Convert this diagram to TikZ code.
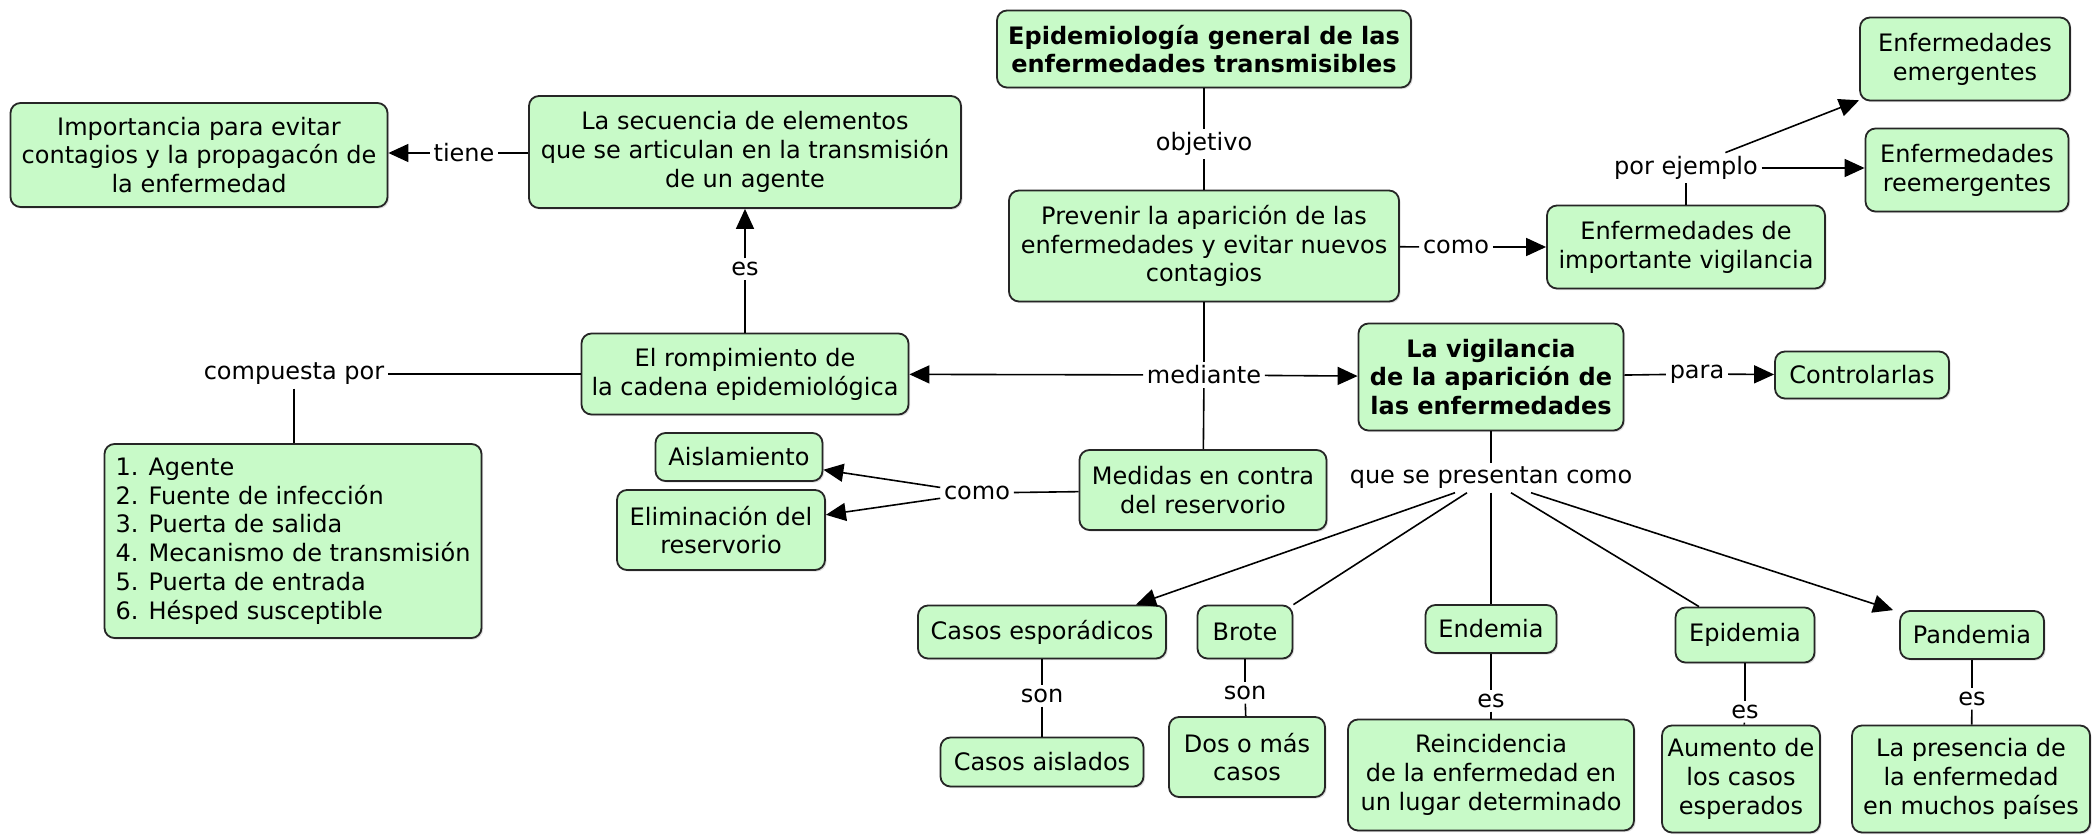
\documentclass[tikz,border=0pt]{standalone}
\usepackage{fontspec}
\setmainfont{DejaVu Sans}
\usetikzlibrary{arrows.meta,shadows}
\definecolor{cmapgreen}{RGB}{200,250,200}

\begin{document}
\begin{tikzpicture}[x=0.5pt,y=-0.5pt, line width=0.8pt,
  nodes = {font=\fontsize{12}{14.4}\selectfont},
  concept/.style = {draw=black!85, line width=0.9pt, fill=cmapgreen,
    rounded corners=5pt, align=center, inner sep=2pt,
    drop shadow={shadow xshift=0.8pt, shadow yshift=-0.8pt, opacity=0.25}},
  link/.style = {inner sep=1.5pt},
  arr/.style = {-{Triangle[length=10pt,width=9pt]}}]
\useasboundingbox (0,0) rectangle (2095,835);

% concepts
\node[concept, minimum width=207pt, minimum height=38.5pt, font=\fontsize{12}{14.4}\selectfont\bfseries]
  (epi) at (1204,49) {Epidemiología general de las\\enfermedades transmisibles};
\node[concept, minimum width=195pt, minimum height=55.5pt]
  (prev) at (1204,246) {Prevenir la aparición de las\\enfermedades y evitar nuevos\\contagios};
\node[concept, minimum width=139pt, minimum height=41.5pt]
  (vig) at (1686,247) {Enfermedades de\\importante vigilancia};
\node[concept, minimum width=105pt, minimum height=41.5pt]
  (emer) at (1965,59) {Enfermedades\\emergentes};
\node[concept, minimum width=101.5pt, minimum height=41.5pt]
  (reem) at (1967,170) {Enfermedades\\reemergentes};
\node[concept, minimum width=216pt, minimum height=56pt]
  (secu) at (745,152) {La secuencia de elementos\\que se articulan en la transmisión\\de un agente};
\node[concept, minimum width=188.5pt, minimum height=52pt]
  (impo) at (199,155) {Importancia para evitar\\contagios y la propagacón de\\la enfermedad};
\node[concept, minimum width=163.5pt, minimum height=40.5pt]
  (romp) at (745,374) {El rompimiento de\\la cadena epidemiológica};
\node[concept, minimum width=132.5pt, minimum height=53.5pt, font=\fontsize{12}{14.4}\selectfont\bfseries]
  (vigi) at (1491,377) {La vigilancia\\de la aparición de\\las enfermedades};
\node[concept, minimum width=87pt, minimum height=23.5pt]
  (ctrl) at (1862,375) {Controlarlas};
\node[concept, minimum width=188.5pt, minimum height=97pt, align=left]
  (list) at (293,541) {1. Agente\\2. Fuente de infección\\3. Puerta de salida\\4. Mecanismo de transmisión\\5. Puerta de entrada\\6. Hésped susceptible};
\node[concept, minimum width=83.5pt, minimum height=24pt]
  (aisl) at (739,457) {Aislamiento};
\node[concept, minimum width=104pt, minimum height=40pt]
  (elim) at (721,530) {Eliminación del\\reservorio};
\node[concept, minimum width=123.5pt, minimum height=40pt]
  (medi) at (1203,490) {Medidas en contra\\del reservorio};
\node[concept, minimum width=124pt, minimum height=26.5pt]
  (cesp) at (1042,632) {Casos esporádicos};
\node[concept, minimum width=47.5pt, minimum height=26.5pt]
  (brot) at (1245,632) {Brote};
\node[concept, minimum width=65.5pt, minimum height=24pt]
  (ende) at (1491,629) {Endemia};
\node[concept, minimum width=69.5pt, minimum height=27.5pt]
  (epid) at (1745,635) {Epidemia};
\node[concept, minimum width=72pt, minimum height=24pt]
  (pand) at (1972,635) {Pandemia};
\node[concept, minimum width=101.5pt, minimum height=24.5pt]
  (cais) at (1042,762) {Casos aislados};
\node[concept, minimum width=78pt, minimum height=40pt]
  (dosm) at (1247,757) {Dos o más\\casos};
\node[concept, minimum width=143pt, minimum height=55.5pt]
  (rein) at (1491,775) {Reincidencia\\de la enfermedad en\\un lugar determinado};
\node[concept, minimum width=79pt, minimum height=53.5pt]
  (aume) at (1741,779) {Aumento de\\los casos\\esperados};
\node[concept, minimum width=119pt, minimum height=53.5pt]
  (pres) at (1971,779) {La presencia de\\la enfermedad\\en muchos países};

% linking phrases
\node[link] (objetivo) at (1204,144) {objetivo};
\node[link] (como1) at (1456,247) {como};
\node[link] (porej) at (1686,168) {por ejemplo};
\node[link] (tiene) at (464,153) {tiene};
\node[link] (es1) at (745,269) {es};
\node[link] (comp) at (294,374) {compuesta por};
\node[link] (mediante) at (1204,375) {mediante};
\node[link] (para) at (1697,374) {para};
\node[link] (qspc) at (1491,478) {que se presentan como};
\node[link] (como2) at (977,493) {como};
\node[link] (son1) at (1042,696) {son};
\node[link] (son2) at (1245,693) {son};
\node[link] (es2) at (1491,701) {es};
\node[link] (es3) at (1745,712) {es};
\node[link] (es4) at (1972,699) {es};

% connectors
\draw (epi) -- (objetivo);
\draw (objetivo) -- (prev);
\draw (prev) -- (como1);
\draw[arr] (como1) -- (vig);
\draw (vig) -- (porej);
\draw[arr] (porej) -- (emer);
\draw[arr] (porej) -- (porej -| reem.west);
\draw (prev) -- (mediante);
\draw (mediante) -- (medi);
\draw[arr] (mediante) -- (romp);
\draw[arr] (mediante) -- (vigi);
\draw (romp) -- (es1);
\draw[arr] (es1) -- (secu);
\draw (secu.west |- tiene) -- (tiene);
\draw[arr] (tiene) -- (impo.east |- tiene);
\draw (romp) -- (comp);
\draw (comp) -- (comp |- list.north);
\draw (medi) -- (como2);
\draw[arr] (como2) -- (aisl);
\draw[arr] (como2) -- (elim);
\draw (vigi) -- (para);
\draw[arr] (para) -- (ctrl);
\draw (vigi) -- (qspc);
\draw[arr] ([xshift=-18pt]qspc.south) -- ([xshift=47pt]cesp.north);
\draw ([xshift=-12pt]qspc.south) -- (brot.north east);
\draw (qspc) -- (ende);
\draw ([xshift=10pt]qspc.south) -- ([xshift=-23pt]epid.north);
\draw[arr] ([xshift=20pt]qspc.south) -- ([xshift=-3pt]pand.north west);
\foreach \top/\lbl/\bot in {cesp/son1/cais, brot/son2/dosm, ende/es2/rein,
    epid/es3/aume, pand/es4/pres} {
  \draw (\top) -- (\lbl);
  \draw (\lbl) -- (\bot);
}
\end{tikzpicture}
\end{document}
